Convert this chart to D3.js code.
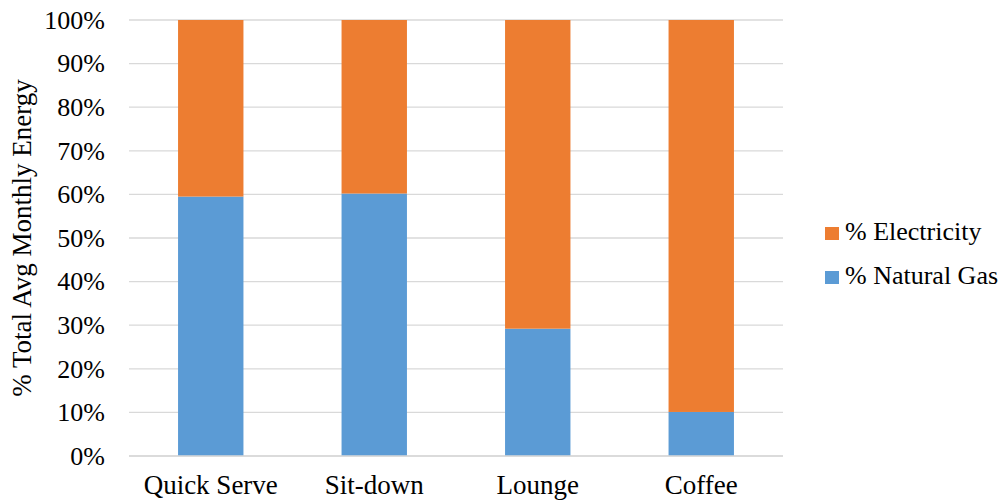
<!DOCTYPE html>
<html>
<head>
<meta charset="utf-8">
<script src="https://cdn.jsdelivr.net/npm/d3@7"></script>
<style>
  html, body { margin: 0; padding: 0; background: #ffffff; }
  svg { display: block; }
  svg text { font-family: 'Liberation Serif', 'Times New Roman', serif; fill: #000; }
</style>
</head>
<body>
<svg id="chart" width="1003" height="502"></svg>
<script>
// Share of total average monthly energy by restaurant type
const categories = ["Quick Serve", "Sit-down", "Lounge", "Coffee"];
const naturalGas = [59.5, 60.2, 29.2, 10.1];
const electricity = [40.5, 39.8, 70.8, 89.9];
const seriesNames = ["% Natural Gas", "% Electricity"];
const seriesColors = ["#5B9BD5", "#ED7D31"];
const yTicks = [0, 10, 20, 30, 40, 50, 60, 70, 80, 90, 100];

const svg = d3.select("#chart");
const plot = { left: 129, right: 783, top: 20, bottom: 456 };

const x = d3.scaleBand()
  .domain(categories)
  .range([plot.left, plot.right])
  .paddingInner(0.6)
  .paddingOuter(0.3);

const y = d3.scaleLinear()
  .domain([0, 100])
  .range([plot.bottom, plot.top]);

// horizontal gridlines
svg.append("g")
  .selectAll("line")
  .data(yTicks)
  .join("line")
  .attr("x1", plot.left)
  .attr("x2", plot.right)
  .attr("y1", d => y(d))
  .attr("y2", d => y(d))
  .attr("stroke", "#D9D9D9")
  .attr("stroke-width", 1.3);

// y tick labels
const yAxis = d3.axisLeft(y)
  .tickValues(yTicks)
  .tickFormat(d => d + "%")
  .tickSize(0)
  .tickPadding(24);
const gy = svg.append("g")
  .attr("transform", `translate(${plot.left},0)`)
  .call(yAxis)
  .attr("font-family", null)
  .attr("font-size", null);
gy.select(".domain").remove();
gy.selectAll("text").attr("font-size", 26);

// stacked bars
const rows = categories.map((c, i) => ({ cat: c, gas: naturalGas[i], elec: electricity[i] }));
const stacked = d3.stack().keys(["gas", "elec"])(rows);

svg.append("g")
  .selectAll("g")
  .data(stacked)
  .join("g")
  .attr("fill", (d, i) => seriesColors[i])
  .selectAll("rect")
  .data(d => d)
  .join("rect")
  .attr("x", d => x(d.data.cat))
  .attr("width", x.bandwidth())
  .attr("y", d => y(d[1]))
  .attr("height", d => y(d[0]) - y(d[1]));

// baseline
svg.append("line")
  .attr("x1", plot.left).attr("x2", plot.right)
  .attr("y1", y(0)).attr("y2", y(0))
  .attr("stroke", "#D9D9D9")
  .attr("stroke-width", 1.3);

// category labels
const xAxis = d3.axisBottom(x).tickSize(0).tickPadding(0);
const gx = svg.append("g")
  .attr("transform", `translate(0,${plot.bottom})`)
  .call(xAxis)
  .attr("font-family", null)
  .attr("font-size", null);
gx.select(".domain").remove();
gx.selectAll("text")
  .attr("font-size", 27)
  .attr("dy", null)
  .attr("y", 38);

// y axis title
svg.append("text")
  .attr("transform", `translate(31,${(plot.top + plot.bottom) / 2}) rotate(-90)`)
  .attr("text-anchor", "middle")
  .attr("font-size", 27)
  .text("% Total Avg Monthly Energy");

// legend, electricity listed first
const legendItems = [1, 0];
const legend = svg.append("g");
legendItems.forEach((s, i) => {
  const baseY = 240 + i * 44;
  legend.append("rect")
    .attr("x", 825).attr("y", baseY - 13)
    .attr("width", 14).attr("height", 13)
    .attr("fill", seriesColors[s]);
  legend.append("text")
    .attr("x", 845).attr("y", baseY)
    .attr("font-size", 26)
    .text(seriesNames[s]);
});
</script>
</body>
</html>
